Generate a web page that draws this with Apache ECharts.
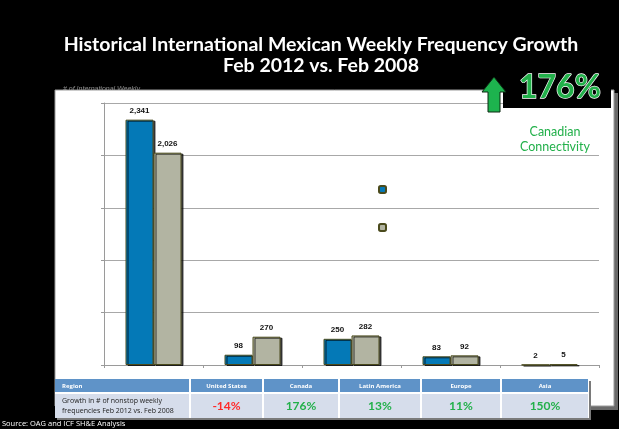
<!DOCTYPE html>
<html><head><meta charset="utf-8">
<script src="https://cdn.jsdelivr.net/npm/echarts@6/dist/echarts.min.js"></script>
<style>html,body{margin:0;padding:0;background:#000;}#c{width:619px;height:429px;}</style>
</head><body><div id="c"></div>
<script>
const categories = ['United States', 'Canada', 'Latin America', 'Europe', 'Asia'];
const feb2008 = [2341, 98, 250, 83, 2];
const feb2012 = [2026, 270, 282, 92, 5];
const growth = ['-14%', '176%', '13%', '11%', '150%'];
const seriesNames = ['Feb 2008', 'Feb 2012'];
const yTicks = [0, 500, 1000, 1500, 2000, 2500];

const chart = echarts.init(document.getElementById('c'));
const colX = [55, 190, 263, 339, 421, 501, 589];
const green = '#22B04A';
const graphics = [];
graphics.push({type:'text', x:63, y:86, z:0, style:{text:'# of International Weekly', fill:'#8a8a8a', font:'italic 7px "Liberation Sans"'}});
graphics.push({type:'rect', shape:{x:58, y:93, width:560, height:317}, style:{fill:'#6a6a6a'}, z:1});
graphics.push({type:'rect', shape:{x:55, y:90, width:559, height:316}, style:{fill:'#fff', stroke:'#9a9a9a', lineWidth:1}, z:1});
graphics.push({type:'rect', shape:{x:503, y:70, width:108, height:38}, style:{fill:'#000'}, z:20});
graphics.push({type:'polygon', shape:{points:[[494,77],[482,92],[488,92],[488,112],[500,112],[500,92],[506,92]]}, style:{fill:'#1DB34E', stroke:'#0d2a12', lineWidth:1}, z:21});
graphics.push({type:'text', x:519, y:72, z:21, style:{text:'176%', fill:green, font:'bold 32px Lato', stroke:'#ffffff', lineWidth:1.3}});
graphics.push({type:'text', x:555, y:139, z:21, style:{text:'Canadian\nConnectivity', fill:green, font:'12.5px Lato', align:'center', verticalAlign:'middle', lineHeight:15}});
graphics.push({type:'rect', shape:{x:57, y:381, width:534, height:39}, style:{fill:'#7a7a7a'}, z:30});
graphics.push({type:'rect', shape:{x:55, y:379, width:534, height:39}, style:{fill:'#fff'}, z:30});
const hdrs = ['Region'].concat(categories);
for (let i = 0; i < 6; i++) {
  const x0 = colX[i] + (i ? 1 : 0), w = colX[i+1] - x0 - 1;
  const cx = (colX[i] + colX[i+1]) / 2;
  graphics.push({type:'rect', shape:{x:x0, y:379, width:w, height:13}, style:{fill:'#5F93C8'}, z:31});
  graphics.push({type:'rect', shape:{x:x0, y:394, width:w, height:24}, style:{fill:'#D6DDEB'}, z:31});
  graphics.push({type:'text', z:32, x: i ? cx : 62, y:386, style:{text:hdrs[i], fill:'#fff', font:'bold 6px "Open Sans"', align: i ? 'center' : 'left', verticalAlign:'middle'}});
  if (i === 0) {
    graphics.push({type:'text', z:32, x:62, y:406, style:{text:'Growth in # of nonstop weekly\nfrequencies Feb 2012 vs. Feb 2008', fill:'#222', font:'7px "Open Sans"', lineHeight:10, verticalAlign:'middle'}});
  } else {
    const g = growth[i-1];
    graphics.push({type:'text', z:32, x:cx, y:406, style:{text:g, fill: g.startsWith('-') ? '#FF2A2A' : green, font:'bold 12px Lato', align:'center', verticalAlign:'middle'}});
  }
}
graphics.push({type:'text', x:2, y:424, z:32, style:{text:'Source: OAG and ICF SH&E Analysis', fill:'#fff', font:'7.5px "Open Sans"', verticalAlign:'middle'}});

const barStyle = (c) => ({color:c, borderColor:'#4a4a1c', borderWidth:1, shadowColor:'rgba(0,0,0,0.7)', shadowOffsetX:2, shadowOffsetY:1, shadowBlur:0});
const lbl = {show:true, position:'top', distance:5, color:'#111', fontSize:8, fontWeight:'bold', fontFamily:'Liberation Sans', formatter:(p)=>p.value.toLocaleString('en-US')};

chart.setOption({
  backgroundColor:'#000',
  animation:false,
  title:{text:'Historical International Mexican Weekly Frequency Growth\nFeb 2012 vs. Feb 2008', left:316, top:29, textAlign:'center',
    textStyle:{color:'#fff', fontSize:19.5, fontWeight:'bold', fontFamily:'Lato', lineHeight:21}},
  graphic: graphics,
  legend:{data:seriesNames, orient:'vertical', left:378, top:185, padding:0, itemWidth:7, itemHeight:7, itemGap:29, z:10,
    itemStyle:{shadowBlur:0, shadowOffsetX:0, shadowOffsetY:0, shadowColor:'transparent'},
    textStyle:{color:'#fff', fontSize:6}},
  grid:{left:104, right:20, top:103, bottom:64, containLabel:false, z:8},
  xAxis:{type:'category', data:categories, axisLabel:{show:false}, axisLine:{lineStyle:{color:'#9a9a9a'}},
    axisTick:{show:true, length:3, lineStyle:{color:'#9a9a9a'}}, z:8},
  yAxis:{type:'value', min:yTicks[0], max:yTicks[yTicks.length-1], interval:500, axisLabel:{show:false},
    axisLine:{show:true, lineStyle:{color:'#9a9a9a'}}, axisTick:{show:true, length:3, lineStyle:{color:'#9a9a9a'}},
    splitLine:{lineStyle:{color:'#a8a8a8'}}, z:8},
  series:[
    {name:seriesNames[0], type:'bar', data:feb2008, barWidth:28, barGap:'0%', itemStyle:barStyle('#0479B7'), label:lbl, z:9},
    {name:seriesNames[1], type:'bar', data:feb2012, barWidth:28, barGap:'0%', itemStyle:barStyle('#B2B4A2'), label:lbl, z:9}
  ]
});
</script></body></html>
